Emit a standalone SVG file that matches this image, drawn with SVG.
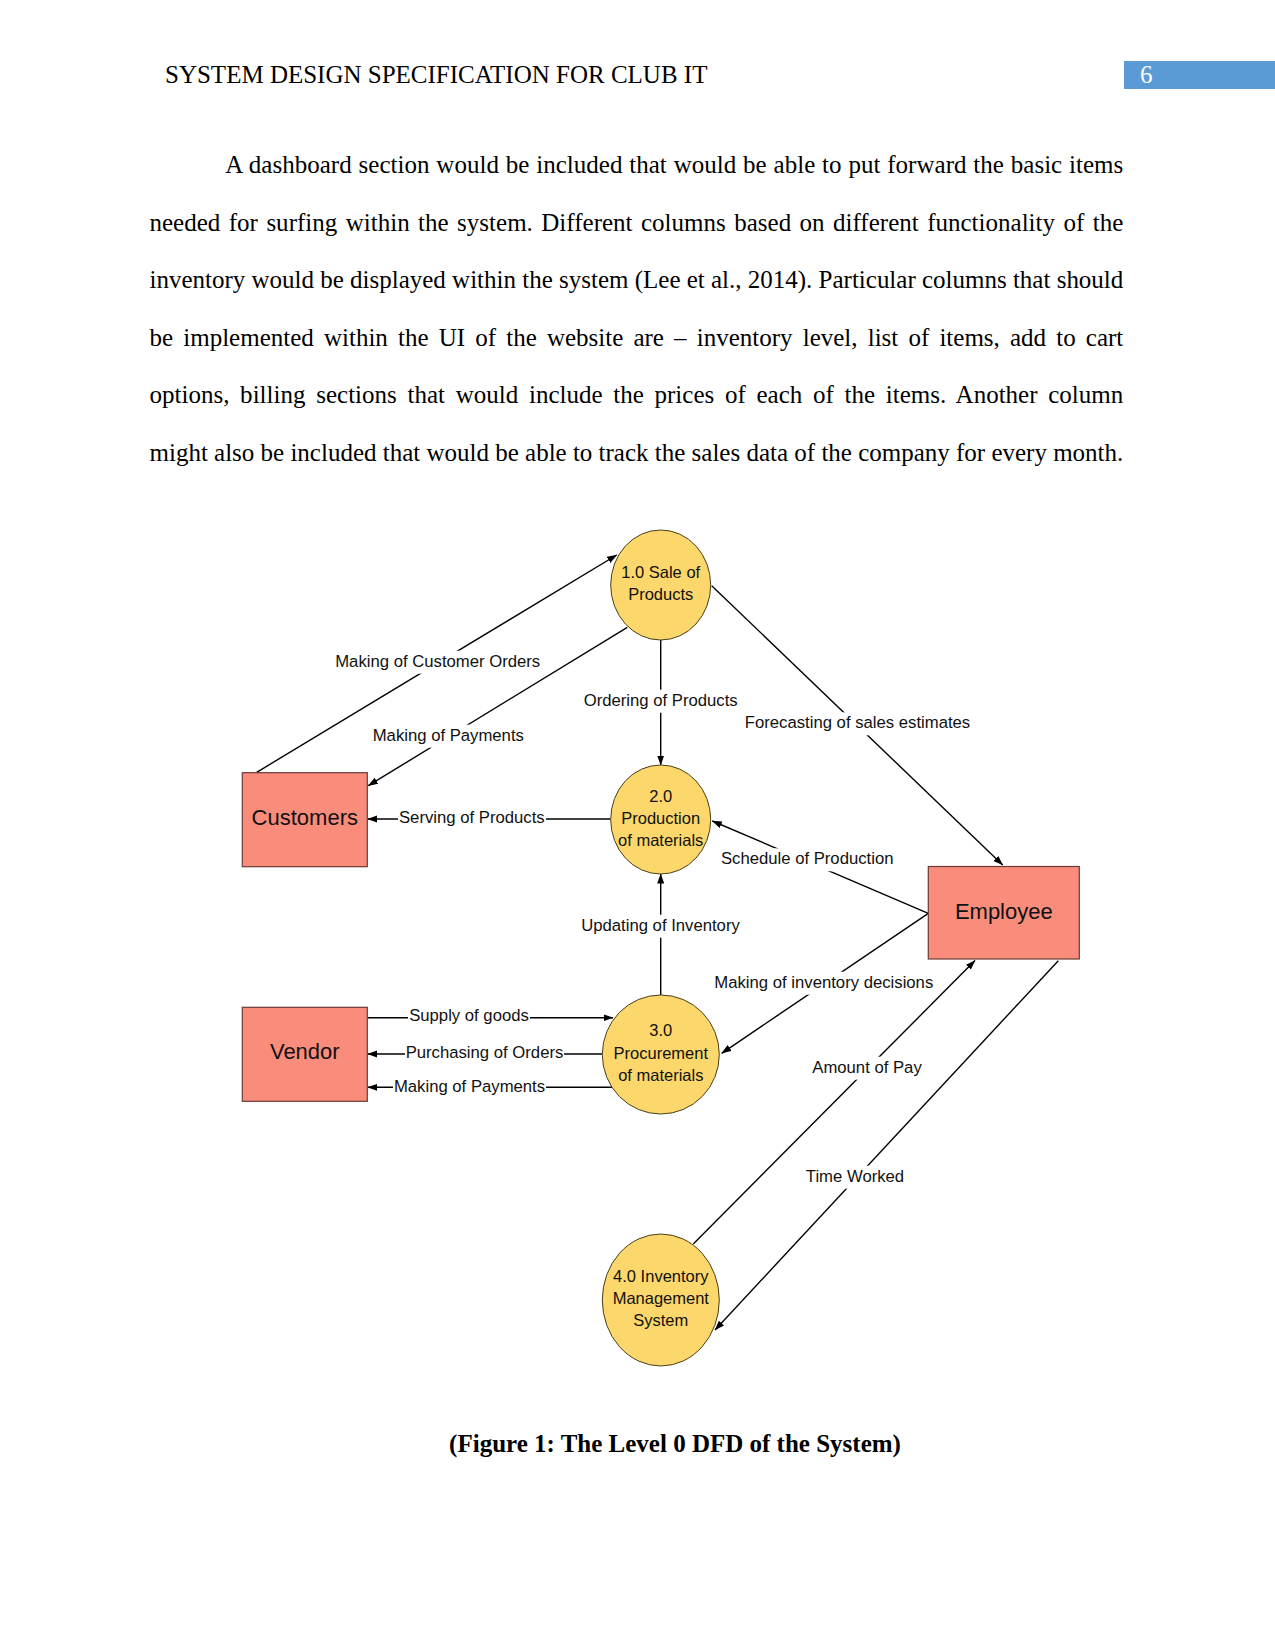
<svg xmlns="http://www.w3.org/2000/svg" width="1275" height="1651" viewBox="0 0 1275 1651">
<style>
.page{font-family:"Liberation Serif","Times New Roman",serif;font-size:25px;fill:#000}
.cap{font-family:"Liberation Serif","Times New Roman",serif;font-size:25px;font-weight:bold;fill:#000}
.proc{fill:#fcd76b;stroke:#4a3f1c;stroke-width:1}
.ent{fill:#fa8c7c;stroke:#6b3a33;stroke-width:1.2}
.ptxt{font-family:"Liberation Sans",Arial,sans-serif;font-size:16.5px;fill:#111;text-anchor:middle}
.etxt{font-family:"Liberation Sans",Arial,sans-serif;font-size:22px;fill:#111;text-anchor:middle}
.ln{stroke:#000;stroke-width:1.4;fill:none}
.arr{marker-end:url(#ah)}
.lbl{font-family:"Liberation Sans",Arial,sans-serif;font-size:16.7px;fill:#111;text-anchor:middle}
.bg{fill:#fff}
</style>
<defs>
<marker id="ah" markerUnits="userSpaceOnUse" markerWidth="10" markerHeight="8" refX="9.5" refY="3.5" orient="auto">
<path d="M0,0 L10,3.5 L0,7 z" fill="#000"/>
</marker>
</defs>
<rect width="1275" height="1651" fill="#fff"/>

<g id="header">
<text class="page" x="165" y="83">SYSTEM DESIGN SPECIFICATION FOR CLUB IT</text>
<rect x="1124" y="61" width="151" height="28" fill="#5b9bd5"/>
<text class="page" x="1140" y="83" style="fill:#fff">6</text>
</g>

<g id="body">
<text class="page" x="225.3" y="173.4" word-spacing="0.57" textLength="898" lengthAdjust="spacing">A dashboard section would be included that would be able to put forward the basic items</text>
<text class="page" x="149.5" y="230.9" word-spacing="2.16" textLength="973.8" lengthAdjust="spacing">needed for surfing within the system. Different columns based on different functionality of the</text>
<text class="page" x="149.5" y="288.4" textLength="973.8" lengthAdjust="spacing">inventory would be displayed within the system (Lee et al., 2014). Particular columns that should</text>
<text class="page" x="149.5" y="345.9" word-spacing="3.9" textLength="973.8" lengthAdjust="spacing">be implemented within the UI of the website are – inventory level, list of items, add to cart</text>
<text class="page" x="149.5" y="403.4" word-spacing="4.4" textLength="973.8" lengthAdjust="spacing">options, billing sections that would include the prices of each of the items. Another column</text>
<text class="page" x="149.5" y="460.9" textLength="973.8" lengthAdjust="spacing">might also be included that would be able to track the sales data of the company for every month.</text>
</g>

<g id="connectors">
<line class="ln arr" x1="256.7" y1="772.3" x2="616.7" y2="555"/>
<line class="ln arr" x1="627.3" y1="627.3" x2="368.3" y2="785.7"/>
<line class="ln arr" x1="660.7" y1="640" x2="660.7" y2="765"/>
<line class="ln arr" x1="711.7" y1="585.7" x2="1002.7" y2="865"/>
<line class="ln arr" x1="610.7" y1="819" x2="367.8" y2="819"/>
<line class="ln arr" x1="928.3" y1="913.3" x2="712.3" y2="821"/>
<line class="ln arr" x1="660.7" y1="995" x2="660.7" y2="874"/>
<line class="ln arr" x1="928.3" y1="913.3" x2="721.7" y2="1053.3"/>
<line class="ln arr" x1="367.3" y1="1017.7" x2="613" y2="1017.7"/>
<line class="ln arr" x1="602.3" y1="1054" x2="367.8" y2="1054"/>
<line class="ln arr" x1="612.7" y1="1087.3" x2="367.8" y2="1087.3"/>
<line class="ln arr" x1="693.3" y1="1244" x2="975" y2="960.5"/>
<line class="ln arr" x1="1058.3" y1="960.7" x2="715" y2="1330"/>

<rect class="bg" x="333" y="650.7" width="209" height="23"/>
<text class="lbl" x="437.7" y="666.7">Making of Customer Orders</text>
<rect class="bg" x="371" y="724.7" width="155" height="23"/>
<text class="lbl" x="448.3" y="740.7">Making of Payments</text>
<rect class="bg" x="582" y="689.7" width="157" height="23"/>
<text class="lbl" x="660.7" y="705.7">Ordering of Products</text>
<rect class="bg" x="743" y="712.3" width="229" height="23"/>
<text class="lbl" x="857.5" y="728.3">Forecasting of sales estimates</text>
<rect class="bg" x="398" y="807.3" width="148" height="23"/>
<text class="lbl" x="471.8" y="823.3">Serving of Products</text>
<rect class="bg" x="719" y="848.3" width="176" height="23"/>
<text class="lbl" x="807.2" y="864.3">Schedule of Production</text>
<rect class="bg" x="580" y="914.7" width="161" height="23"/>
<text class="lbl" x="660.5" y="930.7">Updating of Inventory</text>
<rect class="bg" x="713" y="971.7" width="222" height="23"/>
<text class="lbl" x="823.8" y="987.7">Making of inventory decisions</text>
<rect class="bg" x="408" y="1005" width="122" height="23"/>
<text class="lbl" x="469" y="1021">Supply of goods</text>
<rect class="bg" x="405" y="1042" width="159" height="23"/>
<text class="lbl" x="484.5" y="1058">Purchasing of Orders</text>
<rect class="bg" x="393" y="1075.7" width="153" height="23"/>
<text class="lbl" x="469.5" y="1091.7">Making of Payments</text>
<rect class="bg" x="810" y="1056.7" width="114" height="23"/>
<text class="lbl" x="867" y="1072.7">Amount of Pay</text>
<rect class="bg" x="805" y="1165.7" width="100" height="23"/>
<text class="lbl" x="855" y="1181.7">Time Worked</text>
</g>

<g id="p1">
<ellipse class="proc" cx="660.7" cy="585" rx="50" ry="55"/>
<text class="ptxt" x="660.7" y="578.3">1.0 Sale of</text>
<text class="ptxt" x="660.7" y="600">Products</text>
</g>
<g id="p2">
<ellipse class="proc" cx="660.7" cy="819.5" rx="50" ry="54.5"/>
<text class="ptxt" x="660.7" y="801.7">2.0</text>
<text class="ptxt" x="660.7" y="824">Production</text>
<text class="ptxt" x="660.7" y="846">of materials</text>
</g>
<g id="p3">
<ellipse class="proc" cx="660.8" cy="1054.5" rx="58.5" ry="59.5"/>
<text class="ptxt" x="660.8" y="1036">3.0</text>
<text class="ptxt" x="660.8" y="1058.5">Procurement</text>
<text class="ptxt" x="660.8" y="1080.7">of materials</text>
</g>
<g id="p4">
<ellipse class="proc" cx="660.8" cy="1300" rx="58.5" ry="66"/>
<text class="ptxt" x="660.8" y="1281.7">4.0 Inventory</text>
<text class="ptxt" x="660.8" y="1304">Management</text>
<text class="ptxt" x="660.8" y="1326">System</text>
</g>
<g id="customers">
<rect class="ent" x="242.3" y="772.7" width="125" height="94"/>
<text class="etxt" x="304.8" y="825">Customers</text>
</g>
<g id="employee">
<rect class="ent" x="928.3" y="866.5" width="151" height="92.5"/>
<text class="etxt" x="1003.8" y="918.5">Employee</text>
</g>
<g id="vendor">
<rect class="ent" x="242.3" y="1007.3" width="125" height="94"/>
<text class="etxt" x="304.8" y="1059">Vendor</text>
</g>

<g id="caption">
<text class="cap" x="675" y="1452" text-anchor="middle">(Figure 1: The Level 0 DFD of the System)</text>
</g>
</svg>
